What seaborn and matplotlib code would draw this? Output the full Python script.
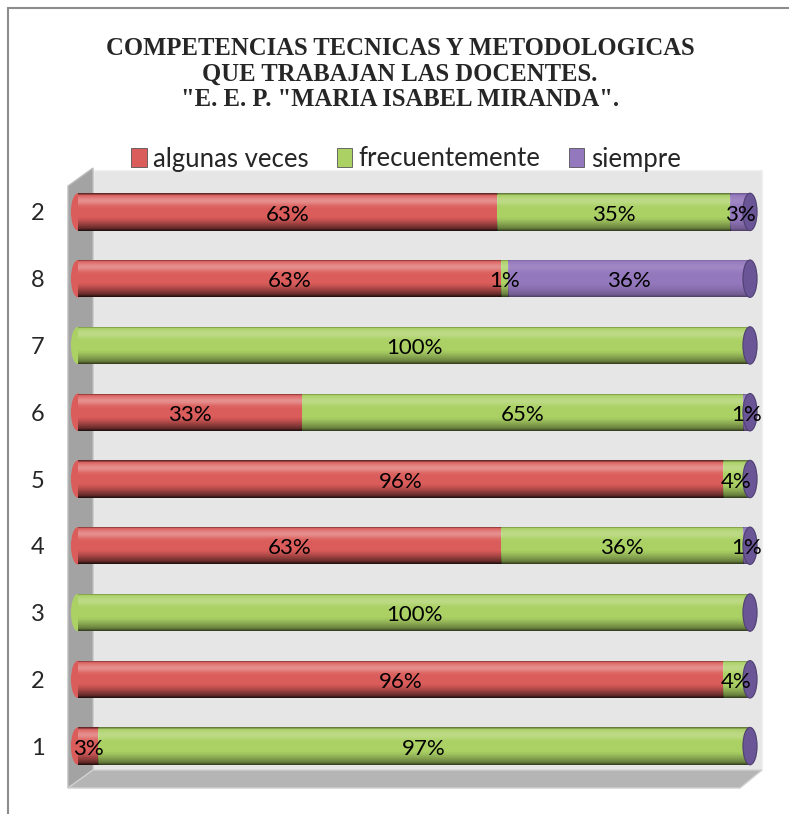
"""Stacked 100% horizontal bar chart: competencias tecnicas y metodologicas."""

import matplotlib

matplotlib.use("Agg")
import matplotlib.pyplot as plt
import numpy as np
import pandas as pd
import seaborn as sns
from matplotlib.patches import Ellipse, Polygon, Rectangle

# data, listed top row first
row_labels = ["2", "8", "7", "6", "5", "4", "3", "2", "1"]
algunas_veces = [63, 63, 0, 33, 96, 63, 0, 96, 3]
frecuentemente = [35, 1, 100, 65, 4, 36, 100, 4, 97]
siempre = [3, 36, 0, 1, 0, 1, 0, 0, 0]

series_names = ["algunas veces", "frecuentemente", "siempre"]
colors = ["#db5d5b", "#abd165", "#9478bd"]
cap_color = "#6a5696"
cap_edge = "#4e3f72"

W, H = 789, 814


def fx(px):
    return px / W


def fy(py):
    return 1 - py / H


sns.set_theme(style="white")
plt.rcParams["font.family"] = ["Lato", "DejaVu Sans"]

df = pd.DataFrame(
    {
        "row": [f"r{i}" for i in range(len(row_labels))],
        "algunas veces": algunas_veces,
        "frecuentemente": frecuentemente,
        "siempre": siempre,
    }
)
total = df[series_names].sum(axis=1)
for name in series_names:
    df[name + "_pct"] = df[name] / total * 100
df["cum1"] = df["algunas veces_pct"]
df["cum2"] = df["cum1"] + df["frecuentemente_pct"]
df["cum3"] = df["cum2"] + df["siempre_pct"]

fig = plt.figure(figsize=(W / 100, H / 100), dpi=100)

# outer chart frame
fig.patches.append(
    Rectangle((fx(8), fy(830)), 1.2, fy(8) - fy(830), transform=fig.transFigure,
              fill=False, edgecolor="#8c8c8c", linewidth=1.5, zorder=0)
)
# 3D walls
fig.patches.append(
    Rectangle((fx(93), fy(770)), fx(762) - fx(93), fy(170) - fy(770), transform=fig.transFigure,
              facecolor="#e6e6e6", edgecolor="#f2f2f2", linewidth=1, zorder=0)
)
fig.patches.append(
    Polygon([(fx(68), fy(186)), (fx(93), fy(168)), (fx(93), fy(770)), (fx(68), fy(788))],
            transform=fig.transFigure, facecolor="#a3a3a3", edgecolor="#bdbdbd", zorder=0)
)
fig.patches.append(
    Polygon([(fx(68), fy(788)), (fx(93), fy(770)), (fx(762), fy(770)), (fx(740), fy(788))],
            transform=fig.transFigure, facecolor="#b5b5b5", edgecolor="#d0d0d0", zorder=0)
)

ax = fig.add_axes([fx(78), fy(779.5), fx(750) - fx(78), fy(178.5) - fy(779.5)])
ax.set_zorder(3)
ax.patch.set_alpha(0)

bar_w = 0.56
order = list(df["row"])
for col, color in zip(["cum3", "cum2", "cum1"], colors[::-1]):
    sns.barplot(data=df, y="row", x=col, order=order, orient="h", color=color,
                width=bar_w, saturation=1, linewidth=0, ax=ax)

ax.set_xlim(0, 100)
ax.set_ylim(len(order) - 0.5, -0.5)

# cylinder shading: thin dark top rim, soft highlight, darker underside
t = np.linspace(0, 1, 64)
shade = np.zeros((64, 1, 4))
dark = np.clip((t - 0.62) / 0.38, 0, 1) ** 1.5 * 0.3
light = np.exp(-((t - 0.2) / 0.11) ** 2) * 0.12
edge = np.exp(-(t / 0.035) ** 2) * 0.25 + np.exp(-((1 - t) / 0.035) ** 2) * 0.15
shade[:, 0, :3] = np.where(light[:, None] > dark[:, None] + edge[:, None], 1.0, 0.0)
shade[:, 0, 3] = np.maximum(light, dark + edge)
for p in list(ax.patches):
    x0, y0 = p.get_x(), p.get_y()
    w, h = p.get_width(), p.get_height()
    if w <= 0:
        continue
    im = ax.imshow(shade, extent=(x0, x0 + w, y0 + h, y0), aspect="auto",
                   interpolation="bilinear", zorder=p.get_zorder() + 0.1)
    im.set_clip_path(p)

# end caps
for i in range(len(order)):
    first = next(c for c, v in zip(colors, [algunas_veces[i], frecuentemente[i], siempre[i]]) if v > 0)
    ax.add_patch(Ellipse((0, i), 2.1, bar_w, facecolor=first, edgecolor="none",
                         zorder=0.5, clip_on=False))
    ax.add_patch(Ellipse((100, i), 2.1, bar_w, facecolor=cap_color, edgecolor=cap_edge,
                         linewidth=0.8, zorder=5, clip_on=False))

# value labels
for i in range(len(order)):
    start = 0
    for name in series_names:
        v = df.loc[i, name]
        w = df.loc[i, name + "_pct"]
        if v > 0:
            ax.text(start + w / 2, i + 0.04, f"{v}%", ha="center", va="center",
                    fontsize=16, color="black", zorder=6)
        start += w

ax.set_yticks(range(len(order)))
ax.set_yticklabels(row_labels, fontsize=17)
ax.tick_params(axis="y", length=0, pad=24)
ax.set_xticks([])
ax.set_xlabel("")
ax.set_ylabel("")
sns.despine(ax=ax, left=True, bottom=True)

# legend
handles = [Rectangle((0, 0), 1, 1, facecolor=c, edgecolor="#555555", linewidth=0.6) for c in colors]
fig.legend(handles, series_names, loc="center", bbox_to_anchor=(fx(406), fy(159)), ncol=3,
           frameon=False, fontsize=18.5, handlelength=0.6, handleheight=0.8,
           handletextpad=0.25, columnspacing=1.1)

fig.text(fx(400), fy(74),
         'COMPETENCIAS TECNICAS Y METODOLOGICAS\nQUE TRABAJAN LAS DOCENTES.\n"E. E. P. "MARIA ISABEL MIRANDA".',
         ha="center", va="center", fontsize=17.7, fontweight="bold",
         family=["Liberation Serif", "DejaVu Serif"], linespacing=1.12)

fig.savefig("out.png", dpi=100)
